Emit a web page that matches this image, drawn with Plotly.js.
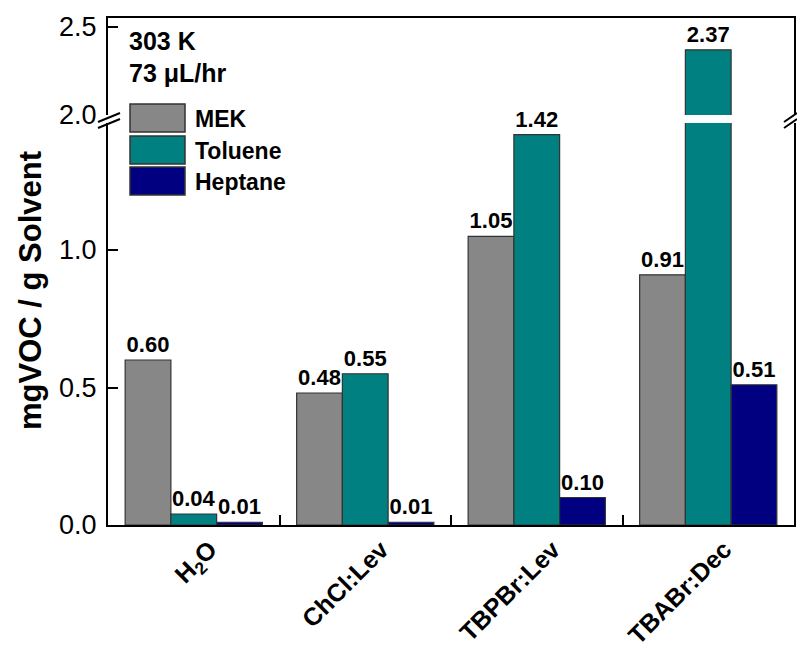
<!DOCTYPE html>
<html>
<head>
<meta charset="utf-8">
<script src="https://cdn.plot.ly/plotly-3.0.1.min.js"></script>
<style>html,body{margin:0;padding:0;background:#fff;}#chart{width:797px;height:652px;}</style>
</head>
<body>
<div id="chart"></div>
<script>
const categories = ['H<sub>2</sub>O', 'ChCl:Lev', 'TBPBr:Lev', 'TBABr:Dec'];
const seriesNames = ['MEK', 'Toluene', 'Heptane'];
const mek = [0.60, 0.48, 1.05, 0.91];
const toluene = [0.04, 0.55, 1.42, 2.37];
const heptane = [0.01, 0.01, 0.10, 0.51];
const seriesValues = [mek, toluene, heptane];
const seriesColors = ['#878787', '#008080', '#000080'];
const lowerTicks = [0.0, 0.5, 1.0];
const upperTicks = [2.0, 2.5];
const lowerRange = [0, 1.462];
const upperRange = [2.0, 2.551];
const noteLines = ['303 K', '73 \u03bcL/hr'];

const FONT = 'Arial, "Liberation Sans", sans-serif';
const traces = [];
seriesValues.forEach((vals, i) => {
  traces.push({
    type: 'bar', x: categories, y: vals, name: seriesNames[i],
    xaxis: 'x', yaxis: 'y', showlegend: false,
    marker: {color: seriesColors[i], line: {color: '#333333', width: 1.2}},
    text: vals.map(v => v > lowerRange[1] ? '' : v.toFixed(2)),
    textposition: 'outside', cliponaxis: false,
    textfont: {family: FONT, size: 22, color: '#000', weight: 'bold'},
    hoverinfo: 'x+y+name'
  });
});
seriesValues.forEach((vals, i) => {
  traces.push({
    type: 'bar', x: categories, y: vals, name: seriesNames[i],
    xaxis: 'x2', yaxis: 'y2', showlegend: false,
    marker: {color: seriesColors[i], line: {color: '#333333', width: 1.2}},
    text: vals.map(v => v >= upperRange[0] ? v.toFixed(2) : ''),
    textposition: 'outside', cliponaxis: false,
    textfont: {family: FONT, size: 22, color: '#000', weight: 'bold'},
    hoverinfo: 'x+y+name'
  });
});

const L = 108, R = 794, T = 18, B = 525;
const px = v => (v - L) / (R - L);
const py = v => (B - v) / (B - T);

const shapes = [];
const annotations = [];
// break marks
[[98, 120], [784, 797]].forEach(([a, b]) => {
  shapes.push({type: 'line', xref: 'paper', yref: 'paper', x0: px(a), x1: px(b), y0: py(122), y1: py(113), line: {color: '#000', width: 2}});
  shapes.push({type: 'line', xref: 'paper', yref: 'paper', x0: px(a), x1: px(b), y0: py(128), y1: py(119), line: {color: '#000', width: 2}});
});
// legend
const legTop = [104, 136, 167];
seriesNames.forEach((n, i) => {
  shapes.push({type: 'rect', xref: 'paper', yref: 'paper', x0: px(130), x1: px(185), y0: py(legTop[i] + 28), y1: py(legTop[i]),
    fillcolor: seriesColors[i], line: {color: '#333333', width: 1.5}});
  annotations.push({xref: 'paper', yref: 'paper', x: px(193), y: py(legTop[i] + 15), xanchor: 'left', yanchor: 'middle',
    text: n, showarrow: false, font: {family: FONT, size: 23, color: '#000', weight: 'bold'}});
});
// notes
[41, 73].forEach((yy, i) => {
  annotations.push({xref: 'paper', yref: 'paper', x: px(127), y: py(yy), xanchor: 'left', yanchor: 'middle',
    text: noteLines[i], showarrow: false, font: {family: FONT, size: 25, color: '#000', weight: 'bold'}});
});
// y title
annotations.push({xref: 'paper', yref: 'paper', x: px(30), y: py(291), xanchor: 'center', yanchor: 'middle',
  text: 'mgVOC / g Solvent', textangle: -90, showarrow: false, font: {family: FONT, size: 31, color: '#000', weight: 'bold'}});

const yCommon = {
  showline: true, linecolor: '#000', linewidth: 2, mirror: true,
  ticks: 'inside', ticklen: 10, tickwidth: 2, tickcolor: '#000',
  showgrid: false, zeroline: false, ticklabelstandoff: 4,
  tickfont: {family: FONT, size: 27, color: '#000'}
};

const layout = {
  width: 797, height: 652,
  margin: {l: L, r: 797 - R, t: T, b: 652 - B},
  paper_bgcolor: '#fff', plot_bgcolor: '#fff',
  barmode: 'group', bargap: 0.2, bargroupgap: 0,
  showlegend: false,
  font: {family: FONT, color: '#000'},
  xaxis: {
    type: 'category', range: [-0.5, 3.5], domain: [0, 1], anchor: 'y',
    showline: true, linecolor: '#000', linewidth: 2,
    ticks: 'inside', tickson: 'boundaries', ticklen: 10, tickwidth: 2, tickcolor: '#000',
    tickangle: -45, showgrid: false, ticklabelshift: 16, ticklabelstandoff: -2,
    tickfont: {family: FONT, size: 25, color: '#000', weight: 'bold'}
  },
  xaxis2: {
    type: 'category', matches: 'x', anchor: 'y2', side: 'top', domain: [0, 1],
    showline: true, linecolor: '#000', linewidth: 2,
    showticklabels: false, ticks: '', showgrid: false
  },
  yaxis: Object.assign({}, yCommon, {
    domain: [0, py(123)], range: lowerRange, anchor: 'x',
    tickvals: lowerTicks, ticktext: lowerTicks.map(v => v.toFixed(1))
  }),
  yaxis2: Object.assign({}, yCommon, {
    domain: [py(115), 1], range: upperRange, anchor: 'x2',
    tickvals: upperTicks, ticktext: upperTicks.map(v => v.toFixed(1))
  }),
  shapes: shapes,
  annotations: annotations
};

Plotly.newPlot('chart', traces, layout, {staticPlot: true, displayModeBar: false});
</script>
</body>
</html>
